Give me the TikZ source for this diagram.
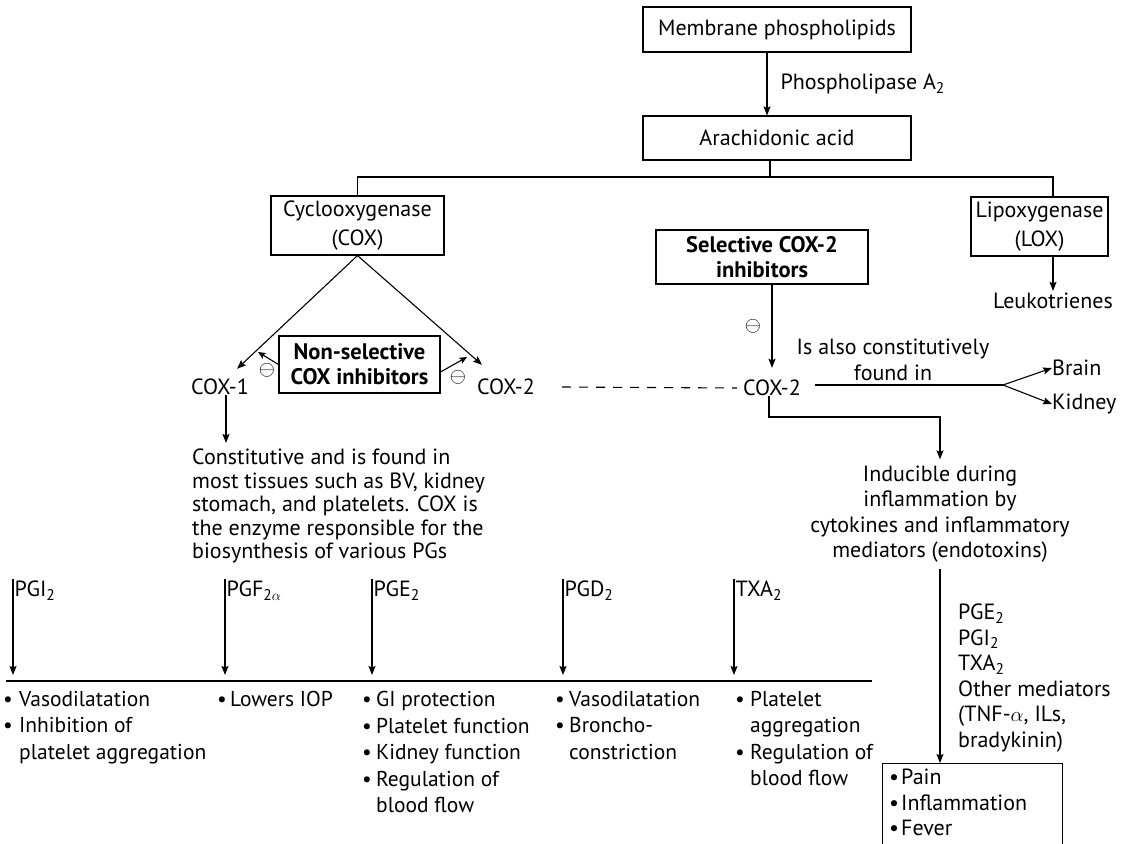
\documentclass[tikz,border=0pt]{standalone}
\usepackage{fontspec}
\setmainfont{PT Sans}
\usetikzlibrary{arrows.meta,calc}
\newcommand\sbs[1]{\raisebox{-0.35ex}{\fontsize{15.5}{15.5}\selectfont #1}}
\newcommand\blt[1][14pt]{\makebox[#1][l]{\textbullet}}
\newcommand\hind[1][14pt]{\hspace*{#1}}
\newcommand\omn{{\fontsize{20}{20}\selectfont$\ominus$}}
\begin{document}
\begin{tikzpicture}[x=1pt,y=-1pt,
  every node/.style={inner sep=0pt, font=\fontsize{22}{26}\selectfont},
  box/.style={draw, line width=1.1pt, align=center},
  ln/.style={line width=1.1pt},
  arr/.style={line width=1.1pt, -{Stealth[length=9pt,width=7pt,inset=1.5pt]}},
  sarr/.style={line width=1.1pt, -{Stealth[length=7.5pt,width=6.5pt,inset=1.5pt]}},
  bfnode/.style={font=\fontsize{22.5}{25}\selectfont\bfseries},
  lst/.style={align=left, anchor=north west, font=\fontsize{21.5}{26.5}\selectfont},
  pglab/.style={anchor=north west, inner sep=1.5pt}
]
\useasboundingbox (0,0) rectangle (1123,843);
\clip (0,0) rectangle (1123,843);

% top
\node[box, minimum width=268pt, minimum height=45pt] (mem) at (777,29.5) {Membrane phospholipids};
\node[box, minimum width=268pt, minimum height=44pt] (ara) at (777,138) {Arachidonic acid};
\draw[arr] ([xshift=-10pt]mem.south) -- ([xshift=-10pt]ara.north)
  node[midway, anchor=west, xshift=13pt] (pla) {Phospholipase A\sbs{2}};

% enzymes
\node[box, minimum width=173pt, minimum height=59pt, font=\fontsize{22}{29}\selectfont] (cox) at (357.5,225.5) {Cyclooxygenase\\(COX)};
\node[box, minimum width=137pt, minimum height=59pt, font=\fontsize{22}{29}\selectfont] (lox) at (1039.5,226.5) {Lipoxygenase\\(LOX)};
\coordinate (jA) at (770,177);
\coordinate (jL) at (357.5,177);
\coordinate (jR) at (1053,177);
\draw[ln] ([xshift=-7pt]ara.south) -- (jA);
\draw[ln] (cox.north) -- (jL) -- (jR) -- (jR |- lox.north);
\node (leuk) at (1053,301) {Leukotrienes};
\draw[arr, shorten >=2pt] (jR |- lox.south) -- (leuk.north);

% COX branches
\node (cox1) at (220,387) {COX-1};
\node (cox2a) at (506,387) {COX-2};
\node[box, bfnode, minimum width=161pt, minimum height=57pt] (nsel) at (359.5,364.5) {Non-selective\\COX inhibitors};
\draw[arr] (cox.south) -- ([shift={(17,-10)}]cox1.north);
\draw[arr] (cox.south) -- ([shift={(-24,-14)}]cox2a.north);
\coordinate (i1) at (258,352);
\coordinate (i2) at (467,357);
\draw[sarr] (nsel.west) -- (i1);
\draw[sarr] ([yshift=-7.5pt]nsel.east) -- (i2);
\node (m1) at (267,370) {\omn};
\node (m2) at (458,377) {\omn};

% selective
\node[box, bfnode, minimum width=212pt, minimum height=54pt] (sel) at (762,257) {Selective COX-2\\inhibitors};
\node (cox2b) at (772,388) {COX-2};
\draw[arr, shorten >=12pt] (sel.south -| cox2b.north) -- (cox2b.north);
\node (m3) at (753,326) {\omn};
\draw[ln, dash pattern=on 9pt off 8pt] ([xshift=27pt]cox2a.east) -- ([xshift=-6pt]cox2b.west);

\node[align=center, font=\fontsize{22}{26}\selectfont] (also) at (893,360) {Is also constitutively\\found in};
\coordinate (fk) at (1003,385);
\draw[ln] ([shift={(14,-3)}]cox2b.east) -- (fk);
\node[anchor=west] (brain) at (1052,368) {Brain};
\node[anchor=west] (kid) at (1052,404) {Kidney};
\draw[arr] (fk) -- (brain.west);
\draw[arr] (fk) -- (kid.west);

% inducible
\node[align=center, font=\fontsize{22}{25.5}\selectfont] (induc) at (940,514) {Inducible during\\inflammation by\\cytokines and inflammatory\\mediators (endotoxins)};
\coordinate (bd) at (940,417);
\draw[arr, shorten >=6pt] ([xshift=-3pt]cox2b.south) |- (bd) -- (induc.north);
\node[anchor=west, align=left, font=\fontsize{22}{25.6}\selectfont] (meds) at (958,678) {PGE\sbs{2}\\PGI\sbs{2}\\TXA\sbs{2}\\Other mediators\\(TNF-$\alpha$, ILs,\\bradykinin)};
\node[draw, ln, minimum width=180pt, minimum height=100pt, anchor=north west] (pfbox) at (882,763) {};
\draw[arr, shorten <=6pt] (induc.south) -- (induc.south |- pfbox.north);
\node[lst, font=\fontsize{22}{25.5}\selectfont] (pftxt) at (889,769) {\blt[12pt]Pain\\\blt[12pt]Inflammation\\\blt[12pt]Fever};

% COX-1 description
\draw[arr] ([xshift=6pt]cox1.south) -- ([xshift=6pt]cox1.south |- 0,443) coordinate (c1tip);
\node[anchor=north west, align=left, font=\fontsize{22}{23.5}\selectfont] (constit) at (192,449) {Constitutive and is found in\\most tissues such as BV, kidney\\stomach, and platelets. COX is\\the enzyme responsible for the\\biosynthesis of various PGs};

% prostaglandins
\coordinate (hl) at (6,681);
\coordinate (hr) at (872,681);
\draw[line width=2pt] (hl) -- (hr);
\node[pglab] (pg1) at (13,579) {PGI\sbs{2}};
\node[pglab] (pg2) at (225,579) {PGF\sbs{2$\alpha$}};
\node[pglab] (pg3) at (372,579) {PGE\sbs{2}};
\node[pglab] (pg4) at (563,579) {PGD\sbs{2}};
\node[pglab] (pg5) at (734,579) {TXA\sbs{2}};
\foreach \p in {pg1,pg2,pg3,pg4,pg5}
  \draw[arr, shorten >=6pt] (\p.north west) -- (\p.north west |- hl);

\node[lst] (e1) at (3,691) {\blt[16pt]Vasodilatation\\\blt[16pt]Inhibition of\\\hind[16pt]platelet aggregation};
\node[lst] (e2) at (217,691) {\blt[13pt]Lowers IOP};
\node[lst] (e3) at (362,691) {\blt GI protection\\\blt Platelet function\\\blt Kidney function\\\blt Regulation of\\\hind blood flow};
\node[lst] (e4) at (555,691) {\blt Vasodilatation\\\blt Broncho-\\\hind constriction};
\node[lst] (e5) at (735,691) {\blt[15pt]Platelet\\\hind[15pt]aggregation\\\blt[15pt]Regulation of\\\hind[15pt]blood flow};
\end{tikzpicture}
\end{document}
